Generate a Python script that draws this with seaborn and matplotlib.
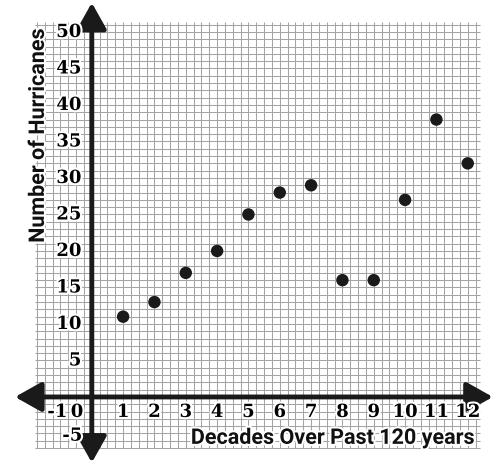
import numpy as np
import matplotlib
matplotlib.use("Agg")
import matplotlib.pyplot as plt
import matplotlib.patheffects as pe
import seaborn as sns

# Data
decades = [1, 2, 3, 4, 5, 6, 7, 8, 9, 10, 11, 12]
hurricanes = [11, 13, 17, 20, 25, 28, 29, 16, 16, 27, 38, 32]
y_ticks = [5, 10, 15, 20, 25, 30, 35, 40, 45, 50]
x_ticks = [1, 2, 3, 4, 5, 6, 7, 8, 9, 10, 11, 12]

sns.set_style("white")

fig = plt.figure(figsize=(4.95, 4.65), dpi=100)
ax = fig.add_axes([0, 0, 1, 1])
ax.set_xlim(-2.93, 12.87)
ax.set_ylim(-9.32, 54.38)
ax.axis("off")

# graph paper
grid_col = "#a4a4a4"
ax.vlines(np.arange(-1.75, 12.3, 0.25), -7.0, 51.3, color=grid_col, lw=0.75, zorder=1)
ax.hlines(np.arange(-7, 52, 1), -1.8, 12.4, color=grid_col, lw=0.75, zorder=1)

# axes with arrows
arrow = dict(arrowstyle="<|-|>,head_length=0.8,head_width=0.45", color="#1a1a1a",
             lw=3.5, mutation_scale=20, shrinkA=0, shrinkB=0)
ax.annotate("", xy=(12.8, 0), xytext=(-2.45, 0), arrowprops=arrow, zorder=4)
ax.annotate("", xy=(0, 54.0), xytext=(0, -9.0), arrowprops=arrow, zorder=4)

halo = [pe.withStroke(linewidth=3, foreground="white")]
tick_font = dict(family="DejaVu Serif", fontweight="bold", fontsize=13, color="black")

for v in y_ticks:
    ax.text(-0.33, v, str(v), ha="right", va="center", path_effects=halo, zorder=6, **tick_font)
for v in x_ticks:
    ax.text(v, -2.05, str(v), ha="center", va="center", path_effects=halo, zorder=6, **tick_font)
ax.text(-1.1, -2.05, "-1", ha="center", va="center", path_effects=halo, zorder=6, **tick_font)
ax.text(-0.47, -2.05, "0", ha="center", va="center", path_effects=halo, zorder=6, **tick_font)
ax.text(-0.62, -5.3, "-5", ha="center", va="center", path_effects=halo, zorder=6, **tick_font)

label_font = dict(family="Roboto", fontweight="bold", fontsize=15.5, color="#111111")
ax.text(-1.72, 35.8, "Number of Hurricanes", rotation=90, ha="center", va="center",
        path_effects=halo, zorder=6, **label_font)
ax.text(7.7, -5.6, "Decades Over Past 120 years", ha="center", va="center",
        path_effects=halo, zorder=6, **label_font)

sns.scatterplot(x=decades, y=hurricanes, ax=ax, s=80, color="#1a1a1a",
                edgecolor="none", zorder=5, legend=False)

fig.savefig("out.png", dpi=100, facecolor="white")
